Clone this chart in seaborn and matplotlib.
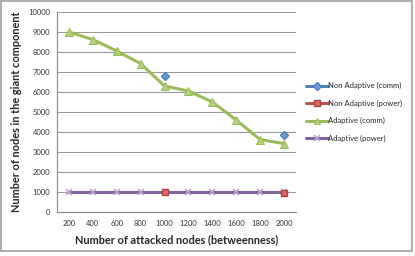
import numpy as np
import pandas as pd
import matplotlib
matplotlib.use("Agg")
import matplotlib.pyplot as plt
import seaborn as sns
from matplotlib.patches import Rectangle

# datos
attacked = [200, 400, 600, 800, 1000, 1200, 1400, 1600, 1800, 2000]
non_adaptive_comm = [np.nan, np.nan, np.nan, np.nan, 6800, np.nan, np.nan, np.nan, np.nan, 3850]
non_adaptive_power = [np.nan, np.nan, np.nan, np.nan, 1000, np.nan, np.nan, np.nan, np.nan, 970]
adaptive_comm = [9000, 8620, 8050, 7420, 6300, 6050, 5500, 4600, 3620, 3420]
adaptive_power = [980, 980, 980, 980, 980, 980, 980, 980, 980, 980]

sns.set_style("white")
plt.rcParams['font.family'] = ['Lato', 'DejaVu Sans']

fig = plt.figure(figsize=(4.15, 2.56), dpi=100)
ax = fig.add_axes([57/415, 1-212/256, (296-57)/415, (212-12)/256])

pos = np.arange(len(attacked))
df = pd.DataFrame({'pos': pos, 'ac': adaptive_comm, 'ap': adaptive_power})

# series dispersas: solo marcadores (sin unir), como en Excel
ax.plot(pos, non_adaptive_comm, color='#4F81BD', lw=2.2, marker='D', ms=4.5,
        mfc='#6A9BD8', mec='#4F81BD', label='Non Adaptive (comm)', zorder=4)
ax.plot(pos, non_adaptive_power, color='#C0504D', lw=2.2, marker='s', ms=5,
        mfc='#D46A66', mec='#B04040', label='Non Adaptive (power)', zorder=4)
sns.lineplot(data=df, x='pos', y='ac', ax=ax, color='#9BBB59', lw=2.2,
             marker='^', markersize=5.5, markerfacecolor='#B5D07A',
             markeredgecolor='#9BBB59', label='Adaptive (comm)', zorder=3)
sns.lineplot(data=df, x='pos', y='ap', ax=ax, color='#8064A2', lw=2.2,
             marker='x', markersize=5, markeredgecolor='#B8A6D0',
             markeredgewidth=1.2, label='Adaptive (power)', zorder=3)

ax.set_xlim(-0.5, len(attacked) - 0.5)
ax.set_ylim(0, 10000)
ax.set_yticks(np.arange(0, 10001, 1000))
ax.set_yticklabels([str(v) for v in range(0, 10001, 1000)], fontsize=5.5, color='#333333')
ax.set_xticks(pos)
ax.set_xticklabels([str(a) for a in attacked], fontsize=5.5, color='#333333')
ax.set_xticks(np.arange(-0.5, len(attacked)), minor=True)
ax.tick_params(axis='x', which='major', length=0, pad=6)
ax.tick_params(axis='x', which='minor', length=3, color='#888888', direction='out')
ax.tick_params(axis='y', length=3, color='#888888', direction='out', pad=2)
ax.yaxis.grid(True, color='#9A9A9A', lw=0.8)
ax.set_axisbelow(True)
for s in ['top', 'right']:
    ax.spines[s].set_visible(False)
for s in ['left', 'bottom']:
    ax.spines[s].set_color('#888888')
    ax.spines[s].set_linewidth(0.8)

ax.set_xlabel('Number of attacked nodes (betweenness)', fontsize=7.9, fontweight='bold', labelpad=5)
ax.set_ylabel('Number of nodes in the giant component', fontsize=7.9, fontweight='bold', labelpad=4)

ax.legend(loc='center left', bbox_to_anchor=(1.03, 0.5), frameon=False, fontsize=5.5,
          handlelength=2.8, handletextpad=0.1, labelspacing=1.35, borderaxespad=0,
          markerscale=0.8)

fig.patches.append(Rectangle((0.003, 0.02), 0.99, 0.975, transform=fig.transFigure,
                             fill=False, edgecolor='#A0A0A0', lw=1.2))

fig.savefig('out.png', dpi=100)
